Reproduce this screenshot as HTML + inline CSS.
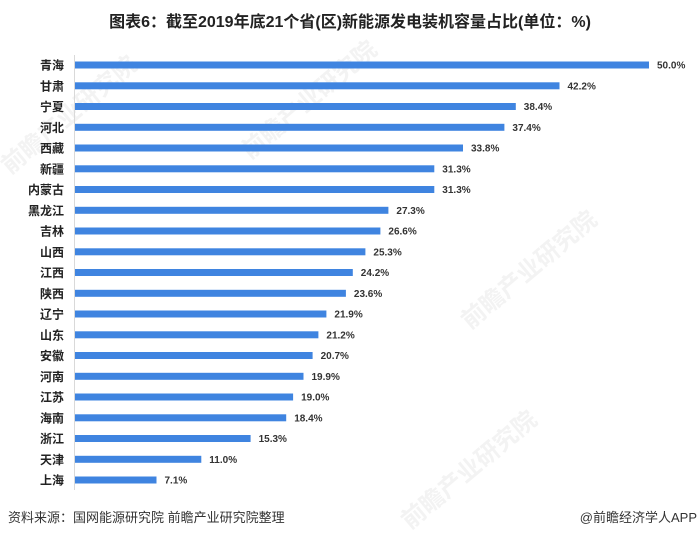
<!DOCTYPE html>
<html><head><meta charset="utf-8"><style>
html,body{margin:0;padding:0;background:#fff;}
svg{display:block;}
</style></head><body>
<svg width="700" height="538" viewBox="0 0 700 538" xmlns="http://www.w3.org/2000/svg" font-family="'Liberation Sans','Noto Sans CJK SC',sans-serif">
<rect width="700" height="538" fill="#fff"/>
<g fill="#f3f3f3" font-size="24" font-weight="bold">
<text transform="translate(10,175) rotate(-40)">前瞻产业研究院</text>
<text transform="translate(250,160) rotate(-40)">前瞻产业研究院</text>
<text transform="translate(470,330) rotate(-40)">前瞻产业研究院</text>
<text transform="translate(410,530) rotate(-40)">前瞻产业研究院</text>
</g>
<text x="350" y="27" text-anchor="middle" font-size="16" font-weight="bold" fill="#222">图表6：截至2019年底21个省(区)新能源发电装机容量占比(单位：%)</text>
<line x1="74.5" y1="55" x2="74.5" y2="490" stroke="#d9d9d9" stroke-width="1"/>
<g font-size="12" font-weight="bold" fill="#222" text-anchor="end">
<text x="64" y="69.5">青海</text>
<text x="64" y="90.3">甘肃</text>
<text x="64" y="111">宁夏</text>
<text x="64" y="131.8">河北</text>
<text x="64" y="152.5">西藏</text>
<text x="64" y="173.3">新疆</text>
<text x="64" y="194">内蒙古</text>
<text x="64" y="214.8">黑龙江</text>
<text x="64" y="235.5">吉林</text>
<text x="64" y="256.3">山西</text>
<text x="64" y="277">江西</text>
<text x="64" y="297.8">陕西</text>
<text x="64" y="318.5">辽宁</text>
<text x="64" y="339.3">山东</text>
<text x="64" y="360">安徽</text>
<text x="64" y="380.8">河南</text>
<text x="64" y="401.5">江苏</text>
<text x="64" y="422.3">海南</text>
<text x="64" y="443">浙江</text>
<text x="64" y="463.8">天津</text>
<text x="64" y="484.5">上海</text>
</g>
<g fill="#3f84e0">
<rect x="75" y="61.5" width="574" height="7"/>
<rect x="75" y="82.3" width="484.5" height="7"/>
<rect x="75" y="103" width="440.8" height="7"/>
<rect x="75" y="123.8" width="429.4" height="7"/>
<rect x="75" y="144.5" width="388" height="7"/>
<rect x="75" y="165.3" width="359.3" height="7"/>
<rect x="75" y="186" width="359.3" height="7"/>
<rect x="75" y="206.8" width="313.4" height="7"/>
<rect x="75" y="227.5" width="305.4" height="7"/>
<rect x="75" y="248.3" width="290.4" height="7"/>
<rect x="75" y="269" width="277.8" height="7"/>
<rect x="75" y="289.8" width="270.9" height="7"/>
<rect x="75" y="310.5" width="251.4" height="7"/>
<rect x="75" y="331.3" width="243.4" height="7"/>
<rect x="75" y="352" width="237.6" height="7"/>
<rect x="75" y="372.8" width="228.5" height="7"/>
<rect x="75" y="393.5" width="218.1" height="7"/>
<rect x="75" y="414.3" width="211.2" height="7"/>
<rect x="75" y="435" width="175.6" height="7"/>
<rect x="75" y="455.8" width="126.3" height="7"/>
<rect x="75" y="476.5" width="81.5" height="7"/>
</g>
<g font-size="10" font-weight="bold" fill="#333">
<text x="657" y="68.5">50.0%</text>
<text x="567.5" y="89.3">42.2%</text>
<text x="523.8" y="110">38.4%</text>
<text x="512.4" y="130.8">37.4%</text>
<text x="471" y="151.5">33.8%</text>
<text x="442.3" y="172.3">31.3%</text>
<text x="442.3" y="193">31.3%</text>
<text x="396.4" y="213.8">27.3%</text>
<text x="388.4" y="234.5">26.6%</text>
<text x="373.4" y="255.3">25.3%</text>
<text x="360.8" y="276">24.2%</text>
<text x="353.9" y="296.8">23.6%</text>
<text x="334.4" y="317.5">21.9%</text>
<text x="326.4" y="338.3">21.2%</text>
<text x="320.6" y="359">20.7%</text>
<text x="311.5" y="379.8">19.9%</text>
<text x="301.1" y="400.5">19.0%</text>
<text x="294.2" y="421.3">18.4%</text>
<text x="258.6" y="442">15.3%</text>
<text x="209.3" y="462.8">11.0%</text>
<text x="164.5" y="483.5">7.1%</text>
</g>
<text x="8" y="522" font-size="13" fill="#333">资料来源：国网能源研究院 前瞻产业研究院整理</text>
<text x="697" y="522" font-size="13" fill="#333" text-anchor="end">@前瞻经济学人APP</text>
</svg>
</body></html>
